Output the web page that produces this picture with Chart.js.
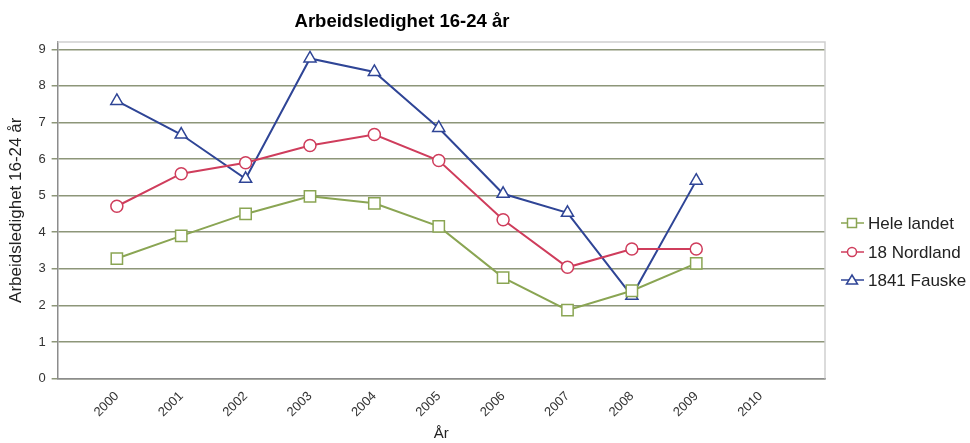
<!DOCTYPE html>
<html>
<head>
<meta charset="utf-8">
<script src="https://cdn.jsdelivr.net/npm/chart.js@4.4.1/dist/chart.umd.min.js"></script>
<style>
  html, body { margin: 0; padding: 0; background: #fff; }
  #wrap { width: 970px; height: 443px; position: relative; }
</style>
</head>
<body>
<div id="wrap"><canvas id="chart"></canvas></div>
<script>
// data
const chartTitle = 'Arbeidsledighet 16-24 år';
const yTitle = 'Arbeidsledighet 16-24 år';
const xTitle = 'År';
const years = [2000, 2001, 2002, 2003, 2004, 2005, 2006, 2007, 2008, 2009, 2010];
const seriesNames = ['Hele landet', '18 Nordland', '1841 Fauske'];
const heleLandet = [3.28, 3.9, 4.5, 4.98, 4.79, 4.16, 2.76, 1.87, 2.4, 3.15];
const nordland = [4.71, 5.6, 5.9, 6.37, 6.67, 5.96, 4.34, 3.04, 3.54, 3.54];
const fauske = [7.59, 6.67, 5.46, 8.75, 8.38, 6.85, 5.05, 4.53, 2.26, 5.41];
const yTicks = [0, 1, 2, 3, 4, 5, 6, 7, 8, 9];

const colors = ['#8aa553', '#cf3d5c', '#2f4596'];
const markers = ['rect', 'circle', 'triangle'];
const markerSize = [8, 6, 7];
const font = '"Liberation Sans", Arial, sans-serif';

function toPoints(values) {
    return values.map((v, i) => ({ x: years[i], y: v }));
}

const allSeries = [heleLandet, nordland, fauske];
const datasets = allSeries.map((values, i) => ({
    label: seriesNames[i],
    data: toPoints(values),
    borderColor: colors[i],
    borderWidth: 2,
    backgroundColor: '#ffffff',
    pointStyle: markers[i],
    pointRadius: markerSize[i],
    pointBorderWidth: 1.5,
    pointBackgroundColor: '#ffffff',
    pointBorderColor: colors[i],
    tension: 0
}));

// light frame round the plot area
const frame = {
    id: 'frame',
    beforeDatasetsDraw(chart) {
        const { ctx, chartArea: a } = chart;
        ctx.save();
        ctx.strokeStyle = '#cfcfcf';
        ctx.lineWidth = 1.5;
        ctx.beginPath();
        ctx.moveTo(a.left, a.top);
        ctx.lineTo(a.right, a.top);
        ctx.lineTo(a.right, a.bottom);
        ctx.stroke();
        ctx.restore();
    }
};

// title and legend drawn by hand so they sit where the original has them
const titleAndLegend = {
    id: 'titleAndLegend',
    afterDraw(chart) {
        const ctx = chart.ctx;
        ctx.save();
        ctx.fillStyle = '#000';
        ctx.font = 'bold 18.5px ' + font;
        ctx.textAlign = 'center';
        ctx.textBaseline = 'middle';
        ctx.fillText(chartTitle, 402, 22);

        const rows = [223, 252, 280];
        chart.data.datasets.forEach((ds, i) => {
            const y = rows[i];
            ctx.strokeStyle = ds.borderColor;
            ctx.lineWidth = 1.5;
            ctx.beginPath();
            ctx.moveTo(841, y);
            ctx.lineTo(864, y);
            ctx.stroke();
            ctx.fillStyle = '#fff';
            ctx.beginPath();
            if (ds.pointStyle === 'rect') {
                ctx.rect(847.5, y - 4.5, 9, 9);
            } else if (ds.pointStyle === 'circle') {
                ctx.arc(852, y, 4.5, 0, Math.PI * 2);
            } else {
                ctx.moveTo(852, y - 5);
                ctx.lineTo(857.5, y + 4);
                ctx.lineTo(846.5, y + 4);
                ctx.closePath();
            }
            ctx.fill();
            ctx.stroke();
            ctx.fillStyle = '#222';
            ctx.font = '17px ' + font;
            ctx.textAlign = 'left';
            ctx.fillText(ds.label, 868, y + 1);
        });
        ctx.restore();
    }
};

new Chart(document.getElementById('chart'), {
    type: 'line',
    data: { datasets },
    plugins: [frame, titleAndLegend],
    options: {
        responsive: true,
        maintainAspectRatio: false,
        animation: false,
        layout: { padding: { top: 42, right: 145, left: 6, bottom: 0 } },
        plugins: {
            legend: { display: false },
            title: { display: false },
            tooltip: { enabled: false }
        },
        scales: {
            x: {
                type: 'linear',
                min: 1999.08,
                max: 2011,
                afterBuildTicks(scale) {
                    scale.ticks = years.map(v => ({ value: v }));
                },
                grid: { display: false },
                border: { display: true, color: '#8c8c8c', width: 1.5 },
                ticks: {
                    autoSkip: false,
                    minRotation: 45,
                    maxRotation: 45,
                    padding: 2,
                    color: '#333',
                    font: { family: font, size: 13 },
                    callback: v => String(v)
                },
                title: {
                    display: true,
                    text: xTitle,
                    color: '#222',
                    font: { family: font, size: 15 },
                    padding: { top: 3, bottom: 0 }
                }
            },
            y: {
                min: 0,
                max: 9.2,
                afterBuildTicks(scale) {
                    scale.ticks = yTicks.map(v => ({ value: v }));
                },
                grid: {
                    color: '#8d9679',
                    lineWidth: 1.5,
                    tickLength: 6,
                    drawTicks: true
                },
                border: { display: true, color: '#8c8c8c', width: 1.5 },
                ticks: {
                    color: '#333',
                    padding: 6,
                    font: { family: font, size: 13 }
                },
                title: {
                    display: true,
                    text: yTitle,
                    color: '#222',
                    font: { family: font, size: 17 },
                    padding: { top: 0, bottom: 6 }
                }
            }
        }
    }
});
</script>
</body>
</html>
